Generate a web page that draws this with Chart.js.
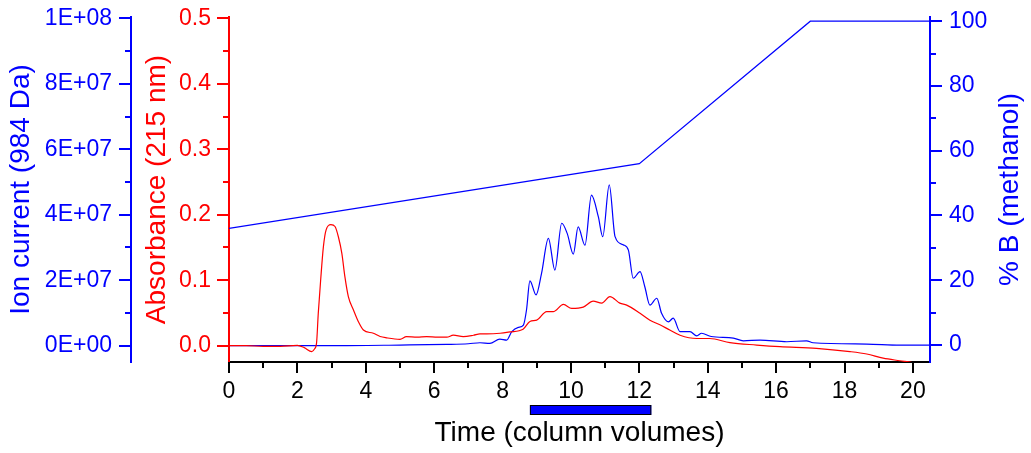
<!DOCTYPE html>
<html>
<head>
<meta charset="utf-8">
<script src="https://cdn.jsdelivr.net/npm/chart.js@4.4.1/dist/chart.umd.min.js"></script>
<style>
  html, body { margin: 0; padding: 0; background: #fff; }
  #wrap { width: 1031px; height: 453px; }
</style>
</head>
<body>
<div id="wrap"><canvas id="chart"></canvas></div>
<script>
// absorbance at 215 nm (red)
const absTime  = [0, 0.5, 1.0, 1.5, 2.0, 2.2, 2.42, 2.5, 2.56, 2.61, 2.68, 2.76, 2.84, 2.98, 3.10, 3.2, 3.3, 3.39, 3.49, 3.64, 3.78, 3.93, 4.22, 4.42, 4.61, 5.0, 5.19, 5.5, 5.78, 6.1, 6.37, 6.56, 6.85, 7.15, 7.34, 7.54, 7.93, 8.22, 8.6, 8.8, 9.0, 9.29, 9.48, 9.78, 10.02, 10.36, 10.65, 10.9, 11.14, 11.43, 11.63, 12.02, 12.31, 12.6, 12.89, 13.19, 13.68, 14.06, 14.65, 15.43, 16.11, 17.18, 18.16, 18.65, 19.13, 19.62, 20.0, 20.5];
const absValue = [0, 0, -0.001, -0.001, 0.0005, -0.003, -0.009, -0.005, 0.004, 0.049, 0.10, 0.151, 0.177, 0.185, 0.182, 0.166, 0.141, 0.105, 0.075, 0.0545, 0.037, 0.024, 0.019, 0.014, 0.012, 0.0098, 0.014, 0.013, 0.014, 0.013, 0.013, 0.016, 0.014, 0.016, 0.018, 0.018, 0.019, 0.021, 0.025, 0.037, 0.039, 0.052, 0.052, 0.063, 0.057, 0.059, 0.068, 0.065, 0.075, 0.065, 0.062, 0.0495, 0.039, 0.032, 0.024, 0.016, 0.011, 0.011, 0.0046, 0.001, -0.0015, -0.004, -0.009, -0.0127, -0.019, -0.023, -0.026, -0.031];

// ion current, 984 Da (blue)
const ionTime  = [0, 3.0, 5.0, 6.37, 7.0, 7.34, 7.63, 7.92, 8.12, 8.27, 8.46, 8.61, 8.7, 8.8, 8.98, 9.14, 9.34, 9.53, 9.73, 9.89, 10.07, 10.21, 10.41, 10.6, 10.8, 10.93, 11.12, 11.29, 11.53, 11.68, 11.82, 12.02, 12.16, 12.31, 12.51, 12.65, 12.85, 12.99, 13.19, 13.48, 13.68, 13.82, 14.1, 14.75, 15.04, 15.53, 16.31, 16.89, 17.08, 18.65, 19.62, 20.5];
const ionValue = [0, 0, 0.02e7, 0.04e7, 0.06e7, 0.09e7, 0.07e7, 0.2e7, 0.17e7, 0.43e7, 0.56e7, 0.63e7, 1.09e7, 1.98e7, 1.55e7, 2.21e7, 3.28e7, 2.31e7, 3.74e7, 3.43e7, 2.8e7, 3.63e7, 3.07e7, 4.6e7, 3.94e7, 3.33e7, 4.91e7, 3.33e7, 3.08e7, 2.92e7, 2.06e7, 2.26e7, 1.8e7, 1.24e7, 1.45e7, 0.99e7, 0.73e7, 0.84e7, 0.43e7, 0.43e7, 0.30e7, 0.38e7, 0.28e7, 0.23e7, 0.15e7, 0.17e7, 0.12e7, 0.15e7, 0.09e7, 0.05e7, 0.02e7, 0.02e7];

// gradient, % B methanol
const gradTime  = [0, 12.0, 17.0, 20.5];
const gradValue = [36, 56, 100, 100];

// collected fraction (column volumes)
const fraction = [8.8, 12.35];

const timeTicks = [0, 2, 4, 6, 8, 10, 12, 14, 16, 18, 20];
const absTicks  = [0, 0.1, 0.2, 0.3, 0.4, 0.5];
const ionTicks  = [0, 2e7, 4e7, 6e7, 8e7, 1e8];
const gradTicks = [0, 20, 40, 60, 80, 100];

const BLUE = '#0000ff';
const RED = '#ff0000';
Chart.defaults.font.family = "'Liberation Sans', Arial, sans-serif";

function toPoints(xs, ys) {
  return xs.map((x, i) => ({ x: x, y: ys[i] }));
}

function sci(v) {
  if (v === 0) return '0E+00';
  const e = Math.floor(Math.log10(v) + 1e-9);
  const m = Math.round(v / Math.pow(10, e));
  return m + 'E+' + String(e).padStart(2, '0');
}

function fixTicks(list) {
  return s => { s.ticks = list.map(v => ({ value: v })); };
}

// fixed axis sizes, no extra label padding
function fitY(w) {
  return s => { s.width = w; s.paddingTop = 0; s.paddingBottom = 0; };
}

// major + minor tick marks, gradient title, fraction bar
const axisMarks = {
  id: 'axisMarks',
  afterDraw(chart) {
    const ctx = chart.ctx;
    const { x, y, yIon, yB } = chart.scales;
    ctx.save();
    ctx.lineWidth = 2;

    function marks(scale) {
      const major = scale.ticks.map(t => t.value);
      const out = major.map(v => [v, true]);
      for (let i = 0; i < major.length - 1; i++) out.push([(major[i] + major[i + 1]) / 2, false]);
      return out;
    }
    function yMarks(scale, edge, dir, color) {
      ctx.strokeStyle = color;
      marks(scale).forEach(([v, big]) => {
        const py = Math.round(scale.getPixelForValue(v));
        ctx.beginPath();
        ctx.moveTo(edge, py);
        ctx.lineTo(edge + dir * (big ? 12 : 6), py);
        ctx.stroke();
      });
    }
    yMarks(yIon, yIon.right, -1, BLUE);
    yMarks(y, y.right, -1, RED);
    yMarks(yB, yB.left, 1, BLUE);

    ctx.strokeStyle = '#000';
    marks(x).forEach(([v, big]) => {
      const px = Math.round(x.getPixelForValue(v));
      ctx.beginPath();
      ctx.moveTo(px, x.top);
      ctx.lineTo(px, x.top + (big ? 11 : 6));
      ctx.stroke();
    });

    // fraction bar under the time axis
    const x0 = x.getPixelForValue(fraction[0]);
    const x1 = x.getPixelForValue(fraction[1]);
    ctx.fillStyle = BLUE;
    ctx.fillRect(x0, x.top + 43, x1 - x0, 10);
    ctx.lineWidth = 1;
    ctx.strokeStyle = '#000';
    ctx.strokeRect(x0 + 0.5, x.top + 43.5, x1 - x0 - 1, 9);

    // right title reads bottom to top
    const ca = chart.chartArea;
    ctx.translate(1010, (ca.top + ca.bottom) / 2);
    ctx.rotate(-Math.PI / 2);
    ctx.fillStyle = BLUE;
    ctx.font = "28px 'Liberation Sans', Arial, sans-serif";
    ctx.textAlign = 'center';
    ctx.textBaseline = 'middle';
    ctx.fillText('% B (methanol)', 0, 0);
    ctx.restore();
  }
};

new Chart(document.getElementById('chart'), {
  type: 'line',
  data: {
    datasets: [
      {
        label: 'Absorbance (215 nm)',
        data: toPoints(absTime, absValue),
        yAxisID: 'y',
        borderColor: RED,
        borderWidth: 1.2,
        pointRadius: 0,
        cubicInterpolationMode: 'monotone'
      },
      {
        label: 'Ion current (984 Da)',
        data: toPoints(ionTime, ionValue),
        yAxisID: 'yIon',
        borderColor: BLUE,
        borderWidth: 1.2,
        pointRadius: 0,
        cubicInterpolationMode: 'monotone'
      },
      {
        label: '% B (methanol)',
        data: toPoints(gradTime, gradValue),
        yAxisID: 'yB',
        borderColor: BLUE,
        borderWidth: 1.2,
        pointRadius: 0,
        tension: 0
      }
    ]
  },
  options: {
    responsive: true,
    maintainAspectRatio: false,
    animation: false,
    layout: { padding: { top: 17, left: 0, right: 0, bottom: 0 } },
    plugins: { legend: { display: false }, tooltip: { enabled: false } },
    scales: {
      x: {
        type: 'linear',
        min: 0,
        max: 20.5,
        afterBuildTicks: fixTicks(timeTicks),
        afterFit: s => { s.height = 91; s.paddingLeft = 0; s.paddingRight = 0; },
        grid: { display: false, drawTicks: false },
        border: { color: '#000', width: 2 },
        ticks: { color: '#000', font: { size: 23 }, padding: 16, maxRotation: 0, autoSkip: false },
        title: { display: true, text: 'Time (column volumes)', color: '#000', font: { size: 28 }, padding: { top: 0, bottom: 3 } }
      },
      y: {
        position: 'left',
        min: -0.0249,
        max: 0.502,
        afterBuildTicks: fixTicks(absTicks),
        afterFit: fitY(98),
        grid: { display: false, drawTicks: false },
        border: { color: RED, width: 2 },
        ticks: { color: RED, font: { size: 23 }, padding: 18, autoSkip: false, callback: v => v.toFixed(1) },
        title: { display: true, text: 'Absorbance (215 nm)', color: RED, font: { size: 28 }, padding: { top: 9, bottom: 0 } }
      },
      yIon: {
        position: 'left',
        min: -4.98e6,
        max: 1.004e8,
        afterBuildTicks: fixTicks(ionTicks),
        afterFit: fitY(131),
        grid: { display: false, drawTicks: false },
        border: { color: BLUE, width: 2 },
        ticks: { color: BLUE, font: { size: 23 }, padding: 19, autoSkip: false, callback: v => sci(v) },
        title: { display: true, text: 'Ion current (984 Da)', color: BLUE, font: { size: 28 }, padding: { top: 4, bottom: 0 } }
      },
      yB: {
        position: 'right',
        min: -5.25,
        max: 101.3,
        afterBuildTicks: fixTicks(gradTicks),
        afterFit: fitY(101),
        grid: { display: false, drawTicks: false },
        border: { color: BLUE, width: 2 },
        ticks: { color: BLUE, font: { size: 23 }, padding: 19, autoSkip: false },
        title: { display: false }
      }
    }
  },
  plugins: [axisMarks]
});
</script>
</body>
</html>
